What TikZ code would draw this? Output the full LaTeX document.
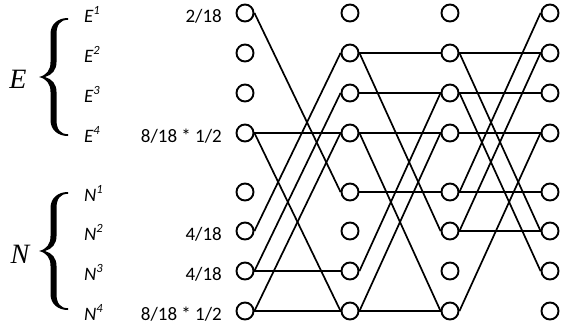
\documentclass[tikz,border=0pt]{standalone}
\usepackage{fontspec}
\setmainfont{Carlito}
\newfontfamily\grossschrift{Liberation Serif}
\begin{document}
\begin{tikzpicture}[x=1pt, y=-1pt,
    knoten/.style={circle, draw, line width=1.9pt, minimum size=17pt, inner sep=0pt},
    kante/.style={line width=1.7pt},
    wert/.style={anchor=base east, inner sep=0pt, font=\fontsize{19}{22}\selectfont},
    stufe/.style={anchor=base west, inner sep=0pt, font=\fontsize{19}{22}\selectfont\itshape},
    gruppe/.style={inner sep=0pt, font=\fontsize{28}{31}\selectfont\grossschrift\itshape},
  ]
  \useasboundingbox (0,0) rectangle (574,327);

  % geschweifte Klammer, Mitte bei y: \klammer{y}
  \newcommand{\klammer}[1]{%
    \fill[shift={(0,#1)}] (68,-59) .. controls (58,-59) and (50.5,-53) .. (50.5,-43)
      -- (50.5,-15) .. controls (50.5,-7) and (47,-2) .. (39,0)
      .. controls (47,2) and (50.5,7) .. (50.5,15) -- (50.5,43)
      .. controls (50.5,53) and (58,59) .. (68,59) -- (68,57.2)
      .. controls (60,57.2) and (56.5,52) .. (56.5,43) -- (56.5,15)
      .. controls (56.5,7) and (52,2) .. (45,0)
      .. controls (52,-2) and (56.5,-7) .. (56.5,-15) -- (56.5,-43)
      .. controls (56.5,-52) and (60,-57.2) .. (68,-57.2) -- cycle;}
  % hochgestellte Nummer: \hoch{n}
  \newcommand{\hoch}[1]{\raisebox{0.4em}{\fontsize{12.5}{14}\selectfont #1}}

  % ---------------- Knoten: vier Spalten, acht Zeilen ----------------
  \def\zeilen{1/13,2/53,3/93,4/133,5/192,6/231,7/271,8/311}
  \foreach \s/\x in {0/245,1/350,2/450,3/550}
    \foreach \z/\y in \zeilen
      \node[knoten] (k\s-\z) at (\x,\y) {};

  % ---------------- Gruppen E und N ----------------------------------
  \klammer{77}
  \klammer{251}
  \node[gruppe] (gruppe-E) at (18,79) {E};
  \node[gruppe] (gruppe-N) at (20,254) {N};
  \foreach \i/\y in {1/13,2/53,3/93,4/133}
    \node[stufe] (e\i) at (84,\y+9) {E\hoch{\i}};
  \foreach \i/\y in {1/192,2/231,3/271,4/311}
    \node[stufe] (n\i) at (84,\y+9) {N\hoch{\i}};

  % Startwerte
  \node[wert] (w1) at (222,22) {2/18};
  \node[wert] (w4) at (222,142) {8/18 * 1/2};
  \node[wert] (w6) at (222,240) {4/18};
  \node[wert] (w7) at (222,280) {4/18};
  \node[wert] (w8) at (222,320) {8/18 * 1/2};

  % ---------------- Kanten -------------------------------------------
  \foreach \a/\b in {1/5,4/4,4/8,6/2,7/3,8/4,7/7,8/8}
    \draw[kante] (k0-\a.east) -- (k1-\b.west);
  \foreach \a/\b in {2/2,3/3,4/4,2/6,7/3,8/4,5/5,4/8,8/8}
    \draw[kante] (k1-\a.east) -- (k2-\b.west);
  \foreach \a/\b in {2/2,3/3,4/4,5/5,6/6,5/1,6/2,8/4,2/6,3/7}
    \draw[kante] (k2-\a.east) -- (k3-\b.west);
\end{tikzpicture}
\end{document}
